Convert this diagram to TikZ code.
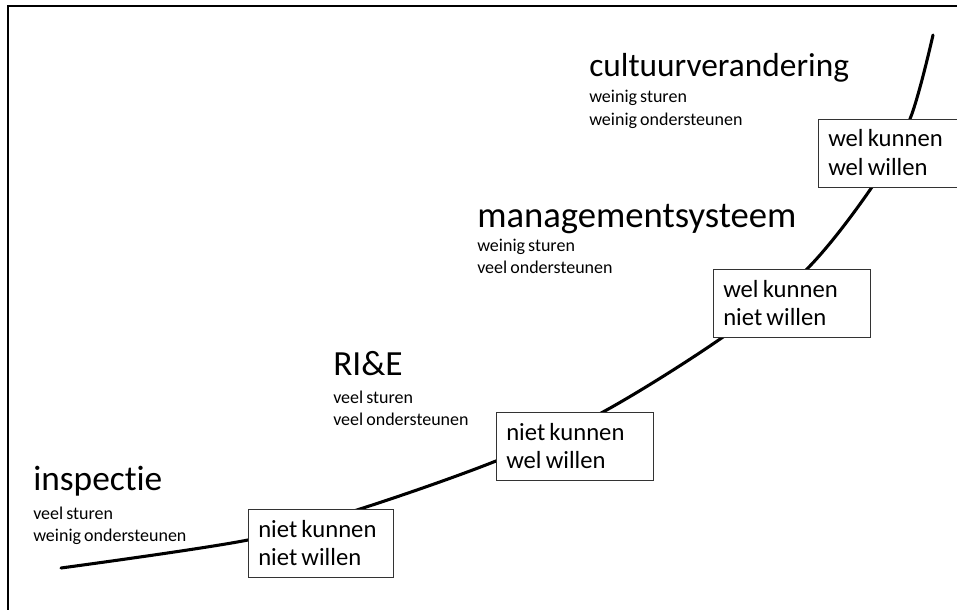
\documentclass[tikz,border=0pt]{standalone}
\usepackage{fontspec}
\setmainfont{Carlito}[RawFeature=-liga,WordSpace=0.75]
\begin{document}
\begin{tikzpicture}[x=0.75pt,y=-0.75pt,
  heading/.style={inner sep=0pt,anchor=base west,font=\fontsize{#1}{30}\selectfont},
  heading/.default=26.5,
  sub/.style={inner sep=0pt,anchor=base west,font=\fontsize{13.5}{16}\selectfont},
  stagebox/.style={draw=black!80,line width=0.8pt,fill=white,anchor=north west,
    minimum width=#1,minimum height=51pt,inner sep=0pt},
  stagetext/.style={inner sep=0pt,anchor=base west,align=left,
    font=\fontsize{18.5}{21}\selectfont},
  curve/.style={line width=2.3pt,line cap=round},
  frame/.style={line width=1.5pt}]
\useasboundingbox (0,0) rectangle (957,610);
% frame on the top and left edges
\coordinate (fbl) at (7.5,610);
\coordinate (ftl) at (7.5,6.5);
\coordinate (ftr) at (957,6.5);
\draw[frame] (fbl) -- (ftl) -- (ftr);

% rising curve, drawn beneath the stage boxes
\draw[curve] plot[smooth,tension=0.55] coordinates {
  (61,568) (248,540) (360,509) (496,461) (603,412)
  (723,337) (807,269) (872,187) (910,119) (933,35)};

% stage boxes and their texts (base anchor sits on the last line);
% the last box runs past the right edge of the page
\node[stagebox=109pt] (s1) at (248,509) {};
\node[stagebox=118pt] (s2) at (496,412) {};
\node[stagebox=118pt] (s3) at (713,269) {};
\node[stagebox=109pt] (s4) at (818,119) {};
\node[stagetext] (t1) at ([shift={(10,56)}]s1.north west) {niet kunnen\\niet willen};
\node[stagetext] (t2) at ([shift={(10,56)}]s2.north west) {niet kunnen\\wel willen};
\node[stagetext] (t3) at ([shift={(10,56)}]s3.north west) {wel kunnen\\niet willen};
\node[stagetext] (t4) at ([shift={(10,56)}]s4.north west) {wel kunnen\\wel willen};

% phase labels
\node[heading] (h1) at (33,490) {inspectie};
\node[sub] (h1a) at (33,519) {veel sturen};
\node[sub] (h1b) at (33,541) {weinig ondersteunen};

\node[heading] (h2) at (333,375) {RI\&E};
\node[sub] (h2a) at (333,403) {veel sturen};
\node[sub] (h2b) at (333,425) {veel ondersteunen};

\node[heading=27.5] (h3) at (477,227) {managementsysteem};
\node[sub] (h3a) at (477,251) {weinig sturen};
\node[sub] (h3b) at (477,273) {veel ondersteunen};

\node[heading=25] (h4) at (589,77) {cultuurverandering};
\node[sub] (h4a) at (589,103) {weinig sturen};
\node[sub] (h4b) at (589,125) {weinig ondersteunen};
\end{tikzpicture}
\end{document}
